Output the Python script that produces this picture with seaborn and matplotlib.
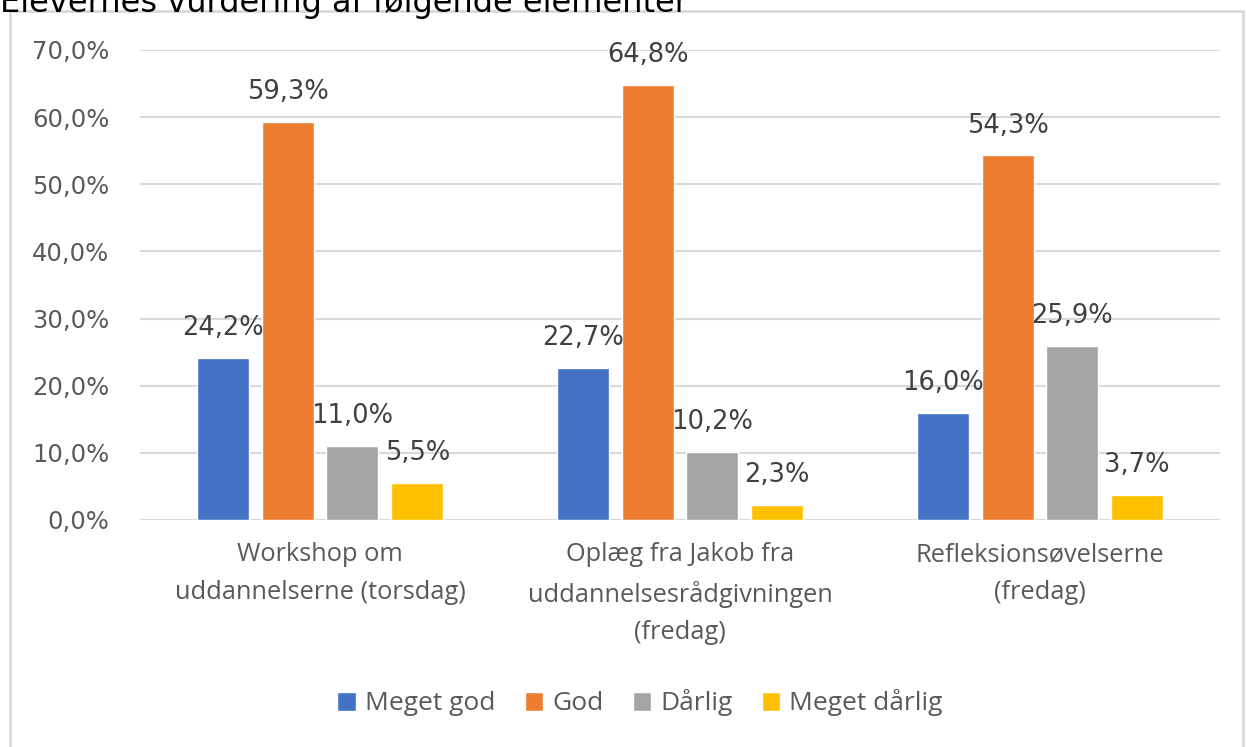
import pandas as pd
import matplotlib.pyplot as plt
import seaborn as sns
from matplotlib.patches import Rectangle
from matplotlib.ticker import FuncFormatter

sns.set_style('white')
plt.rcParams['font.family'] = ['DejaVu Sans']

# data
elementer = ['Workshop om\nuddannelserne (torsdag)',
             'Oplæg fra Jakob fra\nuddannelsesrådgivningen\n(fredag)',
             'Refleksionsøvelserne\n(fredag)']
svar = ['Meget god', 'God', 'Dårlig', 'Meget dårlig']
meget_god = [24.2, 22.7, 16.0]
god = [59.3, 64.8, 54.3]
daarlig = [11.0, 10.2, 25.9]
meget_daarlig = [5.5, 2.3, 3.7]
farver = ['#4472C4', '#ED7D31', '#A5A5A5', '#FFC000']

rows = []
for serie, vals in zip(svar, [meget_god, god, daarlig, meget_daarlig]):
    for el, v in zip(elementer, vals):
        rows.append({'element': el, 'svar': serie, 'andel': v})
df = pd.DataFrame(rows)

fig = plt.figure(figsize=(12.46, 7.47), dpi=100)
ax = fig.add_axes([140 / 1246, 227 / 747, 1080 / 1246, 470 / 747])

sns.barplot(data=df, x='element', y='andel', hue='svar', order=elementer,
            hue_order=svar, palette=farver, width=0.72, gap=0.2,
            saturation=1, ax=ax, errorbar=None)

fmt = lambda v: f'{v:.1f}%'.replace('.', ',')
for c in ax.containers:
    ax.bar_label(c, labels=[fmt(b.get_height()) for b in c], padding=12,
                 fontsize=18.5, color='#404040')

ax.set_ylim(0, 70)
ax.set_yticks(range(0, 71, 10))
ax.yaxis.set_major_formatter(FuncFormatter(lambda v, p: fmt(v)))
ax.grid(axis='y', color='#d9d9d9', lw=1.5)
ax.set_axisbelow(True)
for s in ax.spines.values():
    s.set_visible(False)
ax.tick_params(axis='y', labelsize=17.5, labelcolor='#595959', length=0, pad=22)
ax.tick_params(axis='x', labelsize=18.3, labelcolor='#595959', length=0, pad=16)
for t in ax.get_xticklabels():
    t.set_linespacing(1.65)
    t.set_family('Open Sans')
ax.set_xlabel('')
ax.set_ylabel('')

ax.legend(loc='center', bbox_to_anchor=(0.463, (747 - 703 - 227) / 470), ncol=4,
          frameon=False, handlelength=0.7, handleheight=0.7,
          handletextpad=0.35, columnspacing=1.1,
          prop={'family': 'Open Sans', 'size': 19}, labelcolor='#595959')

# chart frame and title
fig.patches.append(Rectangle((10 / 1246, -0.01), 1233 / 1246, 1 - 11 / 747 + 0.01,
                             transform=fig.transFigure, fill=False,
                             edgecolor='#d9d9d9', lw=2))
fig.text(0.0, 1 - 12 / 747, 'Elevernes vurdering af følgende elementer',
         fontsize=23, va='baseline', ha='left', color='black')

fig.savefig('out.png', dpi=100)
